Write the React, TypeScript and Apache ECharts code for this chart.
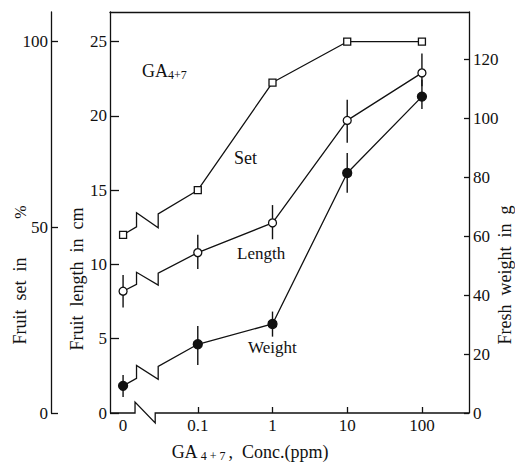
import React, { useEffect, useRef } from "react";
import * as echarts from "echarts";

// ---- data ----
const xLabels = ["0", "0.1", "1", "10", "100"]; // GA4+7 concentration (ppm)
const xPos = [0, 1, 2, 3, 4];

const setPct = [48, 60, 89, 100, 100]; // fruit set in %
const lengthCm = [8.2, 10.8, 12.8, 19.7, 22.9]; // fruit length in cm
const lengthLow = [7.1, 9.7, 11.7, 18.2, 22.0];
const lengthHigh = [9.3, 12.0, 14.0, 21.1, 24.2];
const weightG = [9.2, 23.3, 30.2, 81.4, 107.3]; // fresh weight in g
const weightLow = [5.4, 16.3, 25.9, 74.7, 103.1];
const weightHigh = [12.9, 29.5, 34.4, 88.2, 113.0];

const BREAK_A = 0.18;
const BREAK_B = 0.47;
const FONT = "Liberation Serif";
const BLACK = "#111";

function breakSeries(yAxisIndex: number, vals: number[], h: number) {
  return {
    type: "custom",
    xAxisIndex: 0,
    yAxisIndex,
    z: 3,
    silent: true,
    data: [[xPos[0], vals[0], xPos[1], vals[1]]],
    renderItem: (params: any, api: any) => {
      const p0 = api.coord([api.value(0), api.value(1)]);
      const p1 = api.coord([api.value(2), api.value(3)]);
      const xa = api.coord([BREAK_A, 0])[0];
      const xb = api.coord([BREAK_B, 0])[0];
      const t = (x: number) => p0[1] + ((p1[1] - p0[1]) * (x - p0[0])) / (p1[0] - p0[0]);
      const ya = t(xa);
      const yb = t(xb);
      return {
        type: "polyline",
        shape: {
          points: [p0, [xa, ya], [xa, ya - h], [xb, yb + h], [xb, yb], p1],
        },
        style: { stroke: BLACK, lineWidth: 1.3, fill: null },
      };
    },
  };
}

function errorSeries(yAxisIndex: number, low: number[], high: number[]) {
  return {
    type: "custom",
    xAxisIndex: 0,
    yAxisIndex,
    z: 3,
    silent: true,
    data: xPos.map((x, i) => [x, low[i], high[i]]),
    renderItem: (params: any, api: any) => {
      const a = api.coord([api.value(0), api.value(1)]);
      const b = api.coord([api.value(0), api.value(2)]);
      return {
        type: "line",
        shape: { x1: a[0], y1: a[1], x2: b[0], y2: b[1] },
        style: { stroke: BLACK, lineWidth: 1.4 },
      };
    },
  };
}

function lineSeries(yAxisIndex: number, vals: number[], symbol: string, size: number, fill: string) {
  return {
    type: "line",
    xAxisIndex: 0,
    yAxisIndex,
    z: 5,
    data: xPos.slice(1).map((x, i) => [x, vals[i + 1]]),
    symbol,
    symbolSize: size,
    showSymbol: true,
    itemStyle: { color: fill, borderColor: BLACK, borderWidth: 1.3 },
    lineStyle: { color: BLACK, width: 1.3 },
  };
}

function pointSeries(yAxisIndex: number, vals: number[], symbol: string, size: number, fill: string) {
  return {
    type: "scatter",
    xAxisIndex: 0,
    yAxisIndex,
    z: 6,
    data: [[xPos[0], vals[0]]],
    symbol,
    symbolSize: size,
    itemStyle: { color: fill, borderColor: BLACK, borderWidth: 1.3, opacity: 1 },
  };
}

export default function App() {
  const ref = useRef<HTMLDivElement>(null);
  useEffect(() => {
    document.body.style.margin = "0";
    const chart = echarts.init(ref.current!, null, { renderer: "svg" });
    const axisLabel = { color: BLACK, fontFamily: FONT, fontSize: 17, showMaxLabel: false };
    const axisLine = { show: true, onZero: false, lineStyle: { color: BLACK, width: 1.3 } };
    const sub = { fontFamily: FONT, fontSize: 12, fill: BLACK, lineHeight: 13, verticalAlign: "bottom" };
    const main = { fontFamily: FONT, fontSize: 18, fill: BLACK, lineHeight: 20 };
    const option: any = {
      animation: false,
      backgroundColor: "#fff",
      grid: { left: 110, right: 46, top: 12, bottom: 49, show: false },
      xAxis: [
        {
          type: "value",
          min: -0.175,
          max: 4.63,
          axisLine: { show: false, onZero: false },
          axisTick: { show: true, inside: true, length: 6, customValues: [1, 2, 3, 4], lineStyle: { color: BLACK, width: 1.3 } },
          axisLabel: {
            color: BLACK,
            fontFamily: FONT,
            fontSize: 17,
            margin: 4,
            customValues: xPos,
            formatter: (v: number) => xLabels[Math.round(v)] ?? "",
          },
          splitLine: { show: false },
        },
        {
          type: "value",
          position: "top",
          min: -0.175,
          max: 4.63,
          axisLine,
          axisTick: { show: false },
          axisLabel: { show: false },
          splitLine: { show: false },
        },
      ],
      yAxis: [
        {
          type: "value",
          position: "left",
          min: 0,
          max: 27,
          interval: 5,
          axisLine,
          axisTick: { show: true, inside: true, length: 9, lineStyle: { color: BLACK, width: 1.3 } },
          axisLabel: { ...axisLabel, margin: 3 },
          splitLine: { show: false },
        },
        {
          type: "value",
          position: "left",
          offset: 59,
          min: 0,
          max: 108,
          interval: 50,
          axisLine,
          axisTick: { show: true, inside: true, length: 7, lineStyle: { color: BLACK, width: 1.3 } },
          axisLabel: { ...axisLabel, margin: 3 },
          splitLine: { show: false },
        },
        {
          type: "value",
          position: "right",
          min: 0,
          max: 136,
          interval: 20,
          axisLine,
          axisTick: { show: true, inside: true, length: 5, lineStyle: { color: BLACK, width: 1.3 } },
          axisLabel: { ...axisLabel, margin: 4 },
          splitLine: { show: false },
        },
      ],
      graphic: [
        {
          type: "text",
          left: 142,
          top: 62,
          style: { text: "{a|GA}{s|4+7}", rich: { a: main, s: sub } },
        },
        { type: "text", x: 234, y: 158, style: { text: "Set", font: `18px ${FONT}`, fill: BLACK, verticalAlign: "middle" } },
        { type: "text", x: 237, y: 253, style: { text: "Length", font: `17px ${FONT}`, fill: BLACK, verticalAlign: "middle" } },
        { type: "text", x: 248, y: 347, style: { text: "Weight", font: `17px ${FONT}`, fill: BLACK, verticalAlign: "middle" } },
        {
          type: "text",
          x: 20,
          y: 301,
          rotation: Math.PI / 2,
          style: { text: "Fruit  set  in", font: `18px ${FONT}`, fill: BLACK, align: "center", verticalAlign: "middle" },
        },
        {
          type: "text",
          x: 20,
          y: 212,
          rotation: Math.PI / 2,
          style: { text: "%", font: `16px ${FONT}`, fill: BLACK, align: "center", verticalAlign: "middle" },
        },
        {
          type: "text",
          x: 77,
          y: 279,
          rotation: Math.PI / 2,
          style: { text: "Fruit  length  in  cm", font: `18px ${FONT}`, fill: BLACK, align: "center", verticalAlign: "middle" },
        },
        {
          type: "text",
          x: 505,
          y: 275,
          rotation: Math.PI / 2,
          style: { text: "Fresh  weight  in  g", font: `18px ${FONT}`, fill: BLACK, align: "center", verticalAlign: "middle" },
        },
        {
          type: "text",
          x: 250,
          y: 452,
          style: {
            text: "{a|GA}{s| 4 + 7 }{a|,  Conc.(ppm)}",
            align: "center",
            verticalAlign: "middle",
            rich: { a: main, s: sub },
          },
        },
      ],
      series: [
        // bottom axis line with break
        {
          type: "custom",
          xAxisIndex: 0,
          yAxisIndex: 0,
          silent: true,
          z: 2,
          data: [[0, 0]],
          renderItem: (params: any, api: any) => {
            const cs = params.coordSys;
            const yb = cs.y + cs.height;
            const xa = api.coord([0.16, 0])[0];
            const xb = api.coord([0.43, 0])[0];
            return {
              type: "polyline",
              shape: {
                points: [
                  [cs.x, yb],
                  [xa, yb],
                  [xa, yb - 11],
                  [xb, yb + 10],
                  [xb, yb],
                  [cs.x + cs.width, yb],
                ],
              },
              style: { stroke: BLACK, lineWidth: 1.3, fill: null },
            };
          },
        },
        errorSeries(0, lengthLow, lengthHigh),
        errorSeries(2, weightLow, weightHigh),
        breakSeries(1, setPct, 14),
        breakSeries(0, lengthCm, 12),
        breakSeries(2, weightG, 13),
        lineSeries(1, setPct, "rect", 7, "#fff"),
        lineSeries(0, lengthCm, "circle", 8, "#fff"),
        lineSeries(2, weightG, "circle", 9, BLACK),
        pointSeries(1, setPct, "rect", 7, "#fff"),
        pointSeries(0, lengthCm, "circle", 8, "#fff"),
        pointSeries(2, weightG, "circle", 9, BLACK),
      ],
    };
    chart.setOption(option);
    return () => chart.dispose();
  }, []);
  return <div ref={ref} style={{ position: "absolute", left: 0, top: 0, width: 515, height: 462 }} />;
}
